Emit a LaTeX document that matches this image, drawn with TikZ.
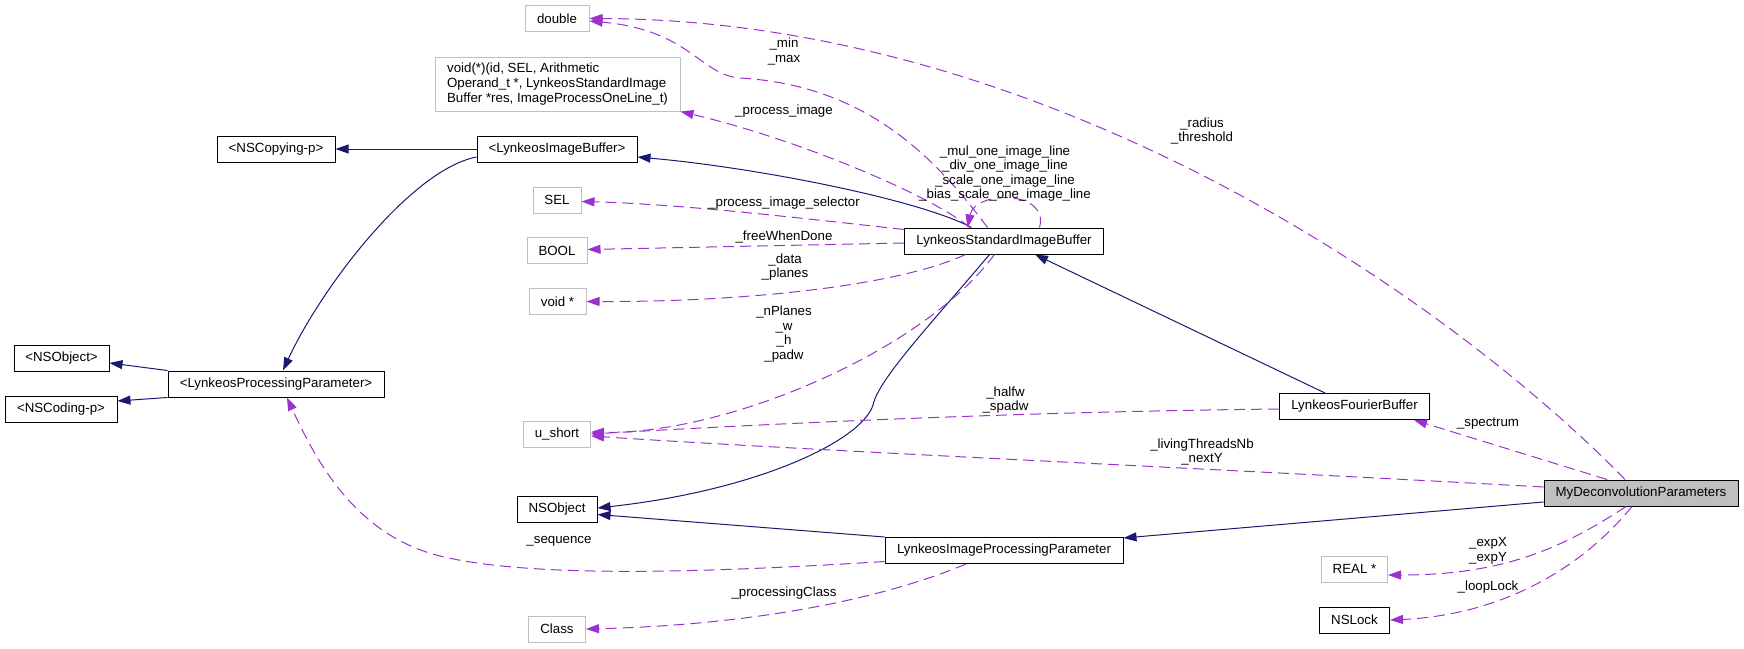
\documentclass[tikz,border=0pt]{standalone}
\usepackage{fontspec}
\setmainfont{Liberation Sans}
\usetikzlibrary{arrows.meta}
\definecolor{navyedge}{HTML}{191970}
\definecolor{orchid}{HTML}{9A32CD}
\definecolor{boxgray}{HTML}{BFBFBF}
\begin{document}
\begin{tikzpicture}[x=1pt,y=-1pt,
  every node/.style={font=\fontsize{13.3}{14.6}\selectfont, inner sep=0pt},
  box/.style={draw=black, line width=1pt, minimum height=26pt},
  gbox/.style={draw=boxgray, line width=1pt, minimum height=26pt},
  lbl/.style={align=center},
  inh/.style={draw=navyedge, line width=1pt, -{Triangle[length=13pt,width=9pt]}},
  use/.style={draw=orchid, line width=1pt, dash pattern=on 11pt off 6pt, -{Triangle[length=13pt,width=9pt]}}]
\useasboundingbox (0,0) rectangle (1744,648);

% nodes
\node[gbox, minimum width=64pt] (dbl) at (557,18.5) {double};
\node[gbox, minimum width=245pt, minimum height=54pt, align=left] (fptr) at (557.5,84) {void(*)(id, SEL, Arithmetic\\Operand\_t *, LynkeosStandardImage\\Buffer *res, ImageProcessOneLine\_t)};
\node[box, minimum width=118pt] (nscopy) at (276,149) {<NSCopying-p>};
\node[box, minimum width=160pt] (lib) at (557,149) {<LynkeosImageBuffer>};
\node[gbox, minimum width=48pt] (sel) at (557,200) {SEL};
\node[gbox, minimum width=60pt] (bool) at (557,250.5) {BOOL};
\node[gbox, minimum width=57pt] (voidp) at (557.5,301.5) {void *};
\node[box, minimum width=199pt] (lsib) at (1004,241) {LynkeosStandardImageBuffer};
\node[box, minimum width=95pt] (nsobjp) at (61.5,358.5) {<NSObject>};
\node[box, minimum width=112pt] (nscod) at (61,409.5) {<NSCoding-p>};
\node[box, minimum width=216pt] (lpp) at (276,384) {<LynkeosProcessingParameter>};
\node[gbox, minimum width=67pt] (ushort) at (557,434) {u\_short};
\node[box, minimum width=80pt] (nsobj) at (557,509.5) {NSObject};
\node[gbox, minimum width=57pt] (cls) at (557,629) {Class};
\node[box, minimum width=238pt] (lipp) at (1004,550.5) {LynkeosImageProcessingParameter};
\node[box, minimum width=150pt] (lfb) at (1354.5,406.5) {LynkeosFourierBuffer};
\node[box, fill=boxgray, minimum width=194pt] (mdp) at (1641,493) {MyDeconvolutionParameters};
\node[gbox, minimum width=66pt] (real) at (1354.5,569) {REAL *};
\node[box, minimum width=70pt] (nslock) at (1354.5,620) {NSLock};

% inheritance edges
\draw[inh] (lib.west) -- (nscopy.east);
\draw[inh] ([shift={(0,8)}]lib.west) .. controls (410,170) and (320,290) .. ([shift={(7,0)}]lpp.north);
\draw[inh] ([shift={(67.5,0)}]lsib.north west) .. controls (920,200) and (760,168) .. ([shift={(0,8)}]lib.east);
\draw[inh] (lpp.north west) -- ([shift={(0,4.5)}]nsobjp.east);
\draw[inh] (lpp.south west) -- ([shift={(0,-8.5)}]nscod.east);
\draw[inh] ([shift={(85.5,0)}]lsib.south west) .. controls (930,325) and (878,380) .. (873,405) .. controls (862,440) and (760,490) .. ([shift={(0,-1.5)}]nsobj.east);
\draw[inh] ([shift={(0,9)}]mdp.west) -- ([shift={(0,1)}]lipp.north east);
\draw[inh] (lipp.north west) -- ([shift={(0,5)}]nsobj.east);
\draw[inh] ([shift={(46,0)}]lfb.north west) -- ([shift={(31,0)}]lsib.south);

% usage edges
\draw[use] ([shift={(-16,0)}]mdp.north) .. controls (1450,300) and (1050,20) .. (dbl.east);
\draw[use] ([shift={(83.5,0)}]lsib.north west) .. controls (930,150) and (860,85) .. (740,78) .. controls (700,75) and (690,30) .. ([shift={(0,2.5)}]dbl.east);
\draw[use] ([shift={(66,0)}]lsib.north west) .. controls (930,195) and (800,140) .. (fptr.south east);
\draw[use] ([shift={(135.5,0)}]lsib.north west) .. controls (1050,190) and (975,190) .. ([shift={(63.5,0)}]lsib.north west);
\draw[use] ([shift={(0,2)}]lsib.north west) .. controls (800,218) and (680,204) .. ([shift={(0,1.5)}]sel.east);
\draw[use] ([shift={(0,2)}]lsib.west) -- ([shift={(0,-1)}]bool.east);
\draw[use] ([shift={(61.5,0)}]lsib.south west) .. controls (900,285) and (750,302) .. (voidp.east);
\draw[use] ([shift={(90.5,0)}]lsib.south west) .. controls (920,355) and (720,435) .. ([shift={(0,-2)}]ushort.east);
\draw[use] ([shift={(0,2.5)}]lfb.west) .. controls (1000,412) and (750,425) .. (ushort.east);
\draw[use] ([shift={(0,-6)}]mdp.west) .. controls (1200,468) and (800,450) .. ([shift={(0,2)}]ushort.east);
\draw[use] ([shift={(-34,0)}]mdp.north) -- ([shift={(-16,0)}]lfb.south east);
\draw[use] ([shift={(0,-2.5)}]lipp.south west) .. controls (700,573) and (530,578) .. (440,556) .. controls (360,536) and (320,470) .. ([shift={(11,0)}]lpp.south);
\draw[use] ([shift={(81.5,0)}]lipp.south west) .. controls (880,600) and (750,625) .. (cls.east);
\draw[use] ([shift={(-15,0)}]mdp.south) .. controls (1560,550) and (1500,575) .. ([shift={(0,6)}]real.east);
\draw[use] ([shift={(-9,0)}]mdp.south) .. controls (1580,570) and (1500,615) .. (nslock.east);

% labels
\node[lbl] (lminmax) at (784,51.5) {\_min\\\_max};
\node[lbl] (lproc) at (784,111) {\_process\_image};
\node[lbl] (lradius) at (1202,131) {\_radius\\\_threshold};
\node[lbl] (lloop) at (1005,173.5) {\_mul\_one\_image\_line\\\_div\_one\_image\_line\\\_scale\_one\_image\_line\\\_bias\_scale\_one\_image\_line};
\node[lbl] (lsel) at (784,203) {\_process\_image\_selector};
\node[lbl] (lfree) at (784,237) {\_freeWhenDone};
\node[lbl] (ldata) at (785,267) {\_data\\\_planes};
\node[lbl] (lnplanes) at (784,334) {\_nPlanes\\\_w\\\_h\\\_padw};
\node[lbl] (lhalfw) at (1005.5,400) {\_halfw\\\_spadw};
\node[lbl] (lliving) at (1202,452) {\_livingThreadsNb\\\_nextY};
\node[lbl] (lspec) at (1488,424) {\_spectrum};
\node[lbl] (lexp) at (1488,551) {\_expX\\\_expY};
\node[lbl] (lloopl) at (1488,587) {\_loopLock};
\node[lbl] (lseq) at (559,541) {\_sequence};
\node[lbl] (lpcls) at (784,593) {\_processingClass};
\end{tikzpicture}
\end{document}
